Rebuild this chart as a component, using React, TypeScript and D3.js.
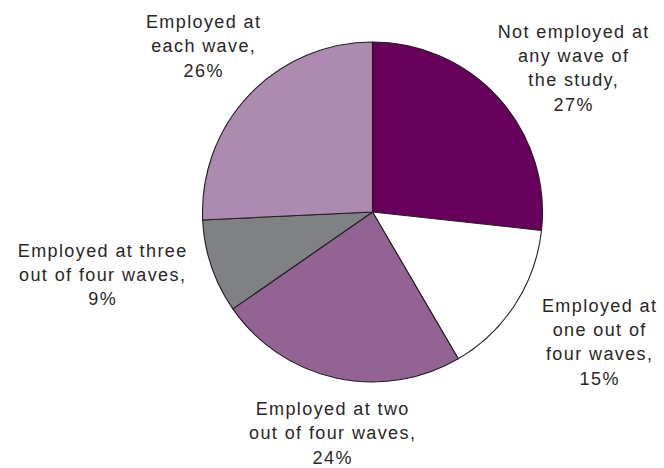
import React from "react";
import * as d3 from "d3";

const categories = [
  "Not employed at any wave of the study",
  "Employed at one out of four waves",
  "Employed at two out of four waves",
  "Employed at three out of four waves",
  "Employed at each wave",
];
const values = [27, 15, 24, 9, 26];
const colors = ["#66005a", "#ffffff", "#936393", "#808184", "#ad8ab0"];
const labelLines = [
  ["Not employed at", "any wave of", "the study,", "27%"],
  ["Employed at", "one out of", "four waves,", "15%"],
  ["Employed at two", "out of four waves,", "24%"],
  ["Employed at three", "out of four waves,", "9%"],
  ["Employed at", "each wave,", "26%"],
];
const labelAnchors: [number, number][] = [
  [573, 37.5],
  [599, 311.5],
  [332, 415],
  [102, 256.5],
  [203, 28],
];

const W = 664;
const H = 468;
const cx = 372.5;
const cy = 212;
const R = 170;
const lineH = 24.4;

export default function App() {
  const data = values.map((v, i) => ({ v, i, name: categories[i] }));
  const pie = d3
    .pie<{ v: number; i: number; name: string }>()
    .sort(null)
    .value((d) => d.v)
    .startAngle(0)
    .endAngle(2 * Math.PI);
  const arcs = pie(data);
  const arcGen = d3
    .arc<d3.PieArcDatum<{ v: number; i: number; name: string }>>()
    .innerRadius(0)
    .outerRadius(R);

  return (
    <svg
      width={W}
      height={H}
      viewBox={`0 0 ${W} ${H}`}
      style={{ position: "absolute", left: 0, top: 0, background: "#fff" }}
    >
      <rect x={0} y={0} width={W} height={H} fill="#fff" />
      <g transform={`translate(${cx},${cy})`}>
        {arcs.map((a) => (
          <path
            key={a.data.i}
            d={arcGen(a) || ""}
            fill={colors[a.data.i]}
            stroke="#231f20"
            strokeWidth={1.1}
            strokeLinejoin="round"
          />
        ))}
      </g>
      {labelLines.map((lines, i) => (
        <text
          key={i}
          textAnchor="middle"
          fontFamily="'Liberation Sans', Arial, sans-serif"
          fontSize={18}
          letterSpacing={1.4}
          fill="#2a2627"
        >
          {lines.map((ln, j) => (
            <tspan key={j} x={labelAnchors[i][0] + 0.7} y={labelAnchors[i][1] + j * lineH}>
              {ln}
            </tspan>
          ))}
        </text>
      ))}
    </svg>
  );
}
